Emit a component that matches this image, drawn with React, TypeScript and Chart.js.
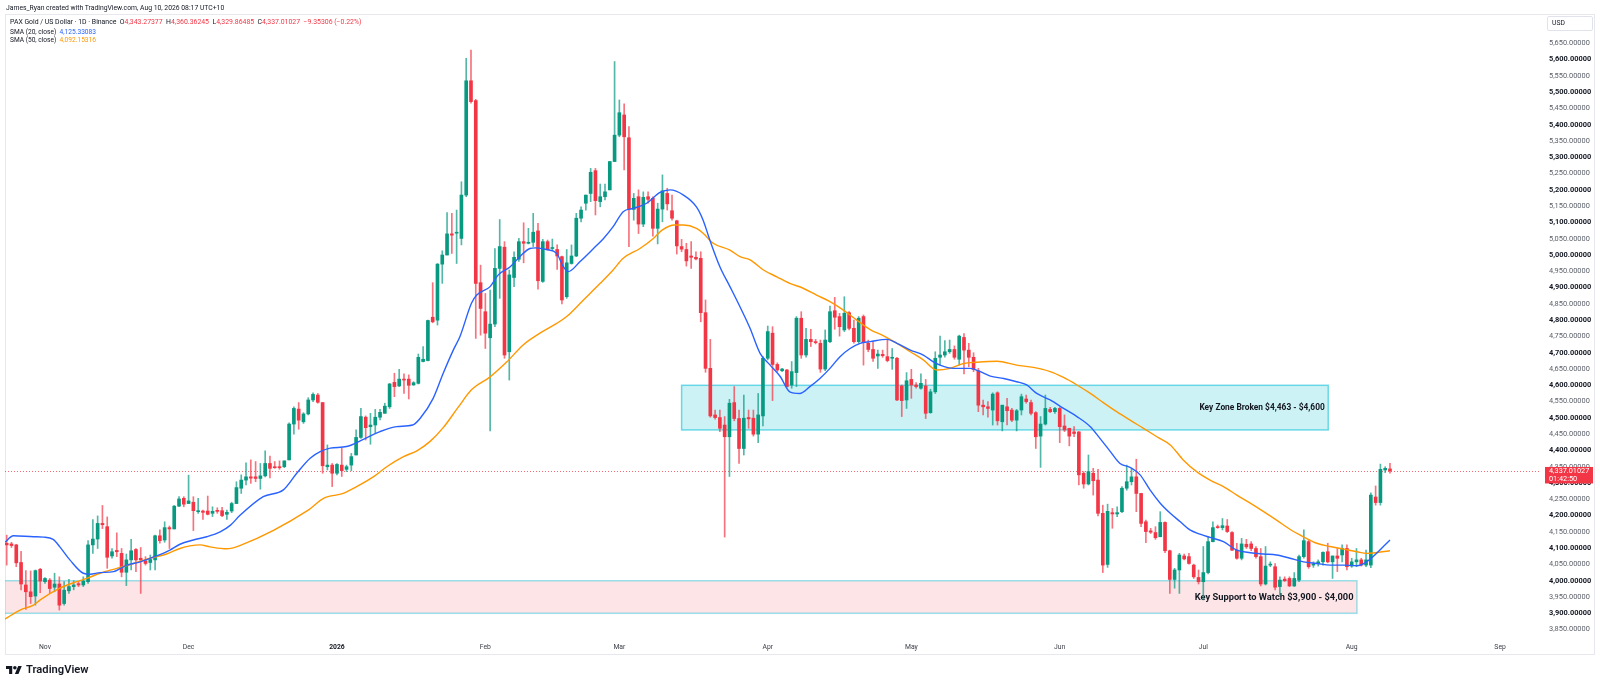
import React, { useEffect, useRef } from "react";
import { Chart, registerables } from "chart.js";

Chart.register(...registerables);

const FONT = "Roboto, 'Noto Sans', sans-serif";
const UP = "#089981";
const DOWN = "#f23645";
const UP_WICK = "rgba(8,153,129,0.7)";
const DOWN_WICK = "rgba(242,54,69,0.7)";

// Day index 0 = 24 Oct 2025, one candle per day, last candle = 9 Aug 2026 (UTC)
const opens = [
  4115, 4113, 4110, 4056, 3987, 3966, 3953, 4035, 3997, 4002,
  3980, 3990, 3930, 3969, 3982, 3991, 3987, 3997, 4110, 4128,
  4176, 4166, 4076, 4093, 4084, 4026, 4064, 4096, 4069, 4061,
  4056, 4064, 4138, 4125, 4163, 4159, 4229, 4253, 4237, 4241,
  4212, 4214, 4214, 4207, 4215, 4215, 4204, 4214, 4237, 4284,
  4309, 4319, 4319, 4314, 4322, 4360, 4350, 4350, 4350, 4371,
  4481, 4527, 4488, 4512, 4555, 4570, 4547, 4350, 4355, 4330,
  4355, 4342, 4355, 4386, 4440, 4502, 4473, 4478, 4502, 4514,
  4534, 4609, 4598, 4619, 4619, 4601, 4606, 4673, 4676, 4809,
  4800, 4972, 5000, 5065, 5067, 5051, 5184, 5535, 5474, 4915,
  4826, 4746, 4788, 4959, 5024, 4703, 4931, 4987, 5041, 5036,
  5039, 5074, 4919, 5041, 5020, 5017, 4995, 4872, 4974, 4997,
  5113, 5159, 5189, 5259, 5164, 5179, 5200, 5287, 5368, 5430,
  5360, 5140, 5179, 5095, 5179, 5174, 5082, 5141, 5189, 5136,
  5105, 5026, 5017, 4997, 4993, 4990, 4823, 4652, 4509, 4501,
  4478, 4442, 4547, 4498, 4406, 4501, 4499, 4450, 4506, 4683,
  4760, 4664, 4645, 4647, 4601, 4639, 4806, 4693, 4741, 4734,
  4729, 4650, 4734, 4829, 4811, 4770, 4823, 4775, 4734, 4811,
  4729, 4710, 4690, 4695, 4688, 4683, 4683, 4598, 4555, 4618,
  4601, 4591, 4598, 4516, 4580, 4686, 4693, 4703, 4710, 4680,
  4747, 4708, 4686, 4645, 4539, 4534, 4524, 4577, 4488, 4534,
  4524, 4493, 4524, 4558, 4547, 4516, 4444, 4481, 4526, 4519,
  4529, 4475, 4468, 4457, 4457, 4330, 4297, 4330, 4309, 4207,
  4050, 4209, 4205, 4212, 4284, 4304, 4319, 4268, 4181, 4153,
  4148, 4135, 4179, 4092, 4004, 4033, 4076, 4074, 4048, 4010,
  3997, 4025, 4120, 4166, 4163, 4168, 4148, 4094, 4069, 4112,
  4113, 4099, 4074, 3990, 4048, 4043, 3982, 4005, 4007, 3984,
  4002, 4074, 4120, 4048, 4053, 4058, 4089, 4058, 4076, 4079,
  4099, 4045, 4058, 4064, 4048, 4048, 4257, 4240, 4340, 4343.27377,
];
const highs = [
  4140, 4118, 4112, 4090, 4031, 4030, 4033, 4038, 4010, 4007,
  4023, 4012, 3997, 4004, 4000, 3997, 4012, 4123, 4188, 4199,
  4231, 4196, 4099, 4147, 4099, 4082, 4127, 4099, 4102, 4074,
  4079, 4140, 4156, 4181, 4168, 4231, 4258, 4258, 4324, 4258,
  4253, 4217, 4260, 4227, 4224, 4225, 4217, 4241, 4304, 4325,
  4362, 4371, 4366, 4360, 4399, 4383, 4366, 4368, 4368, 4485,
  4534, 4547, 4516, 4562, 4577, 4575, 4547, 4417, 4360, 4360,
  4407, 4355, 4391, 4463, 4529, 4506, 4514, 4526, 4526, 4545,
  4606, 4637, 4649, 4635, 4632, 4611, 4696, 4719, 4800, 4915,
  4974, 5013, 5130, 5128, 5138, 5225, 5604, 5629, 5478, 4969,
  4882, 4892, 5020, 5109, 5041, 4954, 5010, 5051, 5099, 5082,
  5128, 5097, 5048, 5046, 5049, 5031, 4997, 5017, 5031, 5128,
  5148, 5184, 5266, 5266, 5218, 5218, 5287, 5594, 5476, 5464,
  5394, 5189, 5200, 5194, 5194, 5179, 5159, 5246, 5205, 5184,
  5107, 5048, 5036, 5041, 5010, 5010, 4862, 4741, 4524, 4524,
  4504, 4557, 4596, 4524, 4570, 4524, 4524, 4575, 4688, 4782,
  4780, 4669, 4652, 4649, 4673, 4811, 4826, 4775, 4772, 4741,
  4739, 4770, 4843, 4870, 4821, 4872, 4826, 4800, 4811, 4816,
  4739, 4734, 4708, 4708, 4739, 4713, 4686, 4601, 4639, 4649,
  4608, 4635, 4618, 4588, 4703, 4751, 4737, 4739, 4721, 4754,
  4759, 4729, 4700, 4652, 4555, 4550, 4577, 4580, 4539, 4560,
  4529, 4526, 4573, 4570, 4555, 4519, 4504, 4570, 4532, 4532,
  4532, 4509, 4468, 4473, 4458, 4335, 4386, 4345, 4342, 4232,
  4235, 4222, 4227, 4289, 4355, 4345, 4373, 4268, 4186, 4161,
  4166, 4212, 4181, 4094, 4038, 4084, 4082, 4084, 4051, 4033,
  4105, 4135, 4181, 4171, 4191, 4188, 4151, 4115, 4130, 4127,
  4120, 4105, 4099, 4105, 4058, 4053, 4012, 4012, 4012, 4025,
  4079, 4156, 4127, 4058, 4064, 4089, 4115, 4076, 4099, 4110,
  4110, 4069, 4099, 4069, 4094, 4270, 4291, 4358, 4350, 4360.36245,
];
const lows = [
  4048, 4102, 4043, 3972, 3912, 3930, 3925, 3963, 3992, 3961,
  3966, 3910, 3925, 3961, 3972, 3982, 3982, 3992, 4084, 4099,
  4160, 4038, 4069, 4074, 4012, 3985, 4033, 4028, 3961, 4048,
  4033, 4033, 4115, 4118, 4099, 4159, 4227, 4227, 4237, 4154,
  4207, 4188, 4202, 4197, 4207, 4197, 4188, 4209, 4237, 4268,
  4294, 4299, 4304, 4281, 4319, 4316, 4345, 4342, 4347, 4371,
  4450, 4465, 4483, 4509, 4550, 4545, 4330, 4340, 4289, 4325,
  4320, 4335, 4338, 4386, 4437, 4432, 4419, 4453, 4494, 4514,
  4529, 4565, 4596, 4575, 4558, 4600, 4604, 4672, 4675, 4792,
  4785, 4913, 5000, 5005, 4974, 5031, 5179, 5466, 4744, 4754,
  4713, 4460, 4780, 4867, 4683, 4616, 4903, 4980, 4976, 5034,
  5026, 4895, 4916, 5015, 5013, 4956, 4850, 4867, 4972, 4995,
  5102, 5138, 5164, 5123, 5148, 5169, 5200, 5287, 5363, 5261,
  5026, 5107, 5066, 5087, 5159, 5058, 5034, 5102, 5138, 5107,
  5003, 5010, 4966, 4959, 4985, 4795, 4640, 4502, 4496, 4458,
  4134, 4320, 4491, 4360, 4386, 4468, 4444, 4424, 4475, 4678,
  4553, 4642, 4642, 4594, 4591, 4596, 4683, 4686, 4719, 4727,
  4640, 4645, 4731, 4772, 4751, 4765, 4770, 4729, 4729, 4662,
  4703, 4673, 4652, 4686, 4672, 4649, 4553, 4504, 4529, 4560,
  4591, 4588, 4498, 4514, 4575, 4662, 4686, 4698, 4680, 4662,
  4635, 4657, 4642, 4519, 4509, 4502, 4478, 4478, 4460, 4478,
  4488, 4460, 4509, 4545, 4509, 4406, 4348, 4478, 4516, 4514,
  4424, 4458, 4414, 4442, 4294, 4284, 4294, 4263, 4199, 4025,
  4041, 4161, 4197, 4209, 4278, 4294, 4212, 4166, 4117, 4145,
  4127, 4135, 4086, 3961, 3977, 3961, 4064, 4051, 4007, 3990,
  3941, 4021, 4119, 4161, 4156, 4148, 4092, 4066, 4064, 4099,
  4092, 4069, 3984, 3987, 4043, 3972, 3956, 3998, 3982, 3982,
  3997, 4069, 4038, 4041, 4045, 4048, 4055, 4007, 4028, 4058,
  4033, 4041, 4043, 4045, 4043, 4040, 4232, 4232, 4332, 4329.86485,
];
const closes = [
  4110, 4108, 4055, 3990, 3966, 3951, 4031, 3999, 4007, 3976,
  3990, 3925, 3971, 3982, 3987, 3987, 3999, 4110, 4128, 4176,
  4172, 4072, 4089, 4089, 4026, 4064, 4092, 4064, 4064, 4053,
  4065, 4138, 4123, 4163, 4159, 4229, 4251, 4235, 4245, 4215,
  4214, 4210, 4204, 4213, 4213, 4200, 4210, 4237, 4286, 4309,
  4319, 4315, 4314, 4322, 4360, 4345, 4347, 4347, 4368, 4481,
  4529, 4493, 4512, 4555, 4572, 4548, 4353, 4355, 4330, 4357,
  4338, 4350, 4381, 4440, 4504, 4470, 4478, 4502, 4517, 4536,
  4604, 4596, 4619, 4616, 4600, 4608, 4686, 4680, 4799, 4795,
  4972, 5000, 5065, 5061, 5070, 5184, 5535, 5471, 4913, 4836,
  4760, 4788, 4959, 5026, 4693, 4939, 4993, 5041, 5036, 5039,
  5070, 4921, 5041, 5017, 5023, 4997, 4862, 4976, 4997, 5113,
  5138, 5184, 5254, 5167, 5179, 5194, 5287, 5368, 5437, 5363,
  5140, 5174, 5095, 5177, 5171, 5082, 5141, 5197, 5157, 5113,
  5028, 5018, 4982, 4993, 4988, 4823, 4652, 4506, 4501, 4468,
  4442, 4545, 4498, 4406, 4499, 4497, 4450, 4509, 4683, 4765,
  4664, 4647, 4650, 4596, 4642, 4806, 4693, 4741, 4734, 4731,
  4650, 4739, 4826, 4809, 4780, 4821, 4775, 4734, 4806, 4731,
  4710, 4683, 4696, 4691, 4676, 4686, 4555, 4553, 4614, 4601,
  4596, 4606, 4514, 4580, 4683, 4693, 4703, 4710, 4686, 4751,
  4708, 4686, 4649, 4539, 4534, 4529, 4573, 4491, 4539, 4522,
  4493, 4522, 4565, 4550, 4514, 4442, 4481, 4529, 4519, 4529,
  4473, 4463, 4444, 4452, 4325, 4297, 4335, 4307, 4207, 4048,
  4213, 4205, 4209, 4284, 4304, 4319, 4268, 4176, 4151, 4149,
  4132, 4179, 4092, 4004, 4033, 4079, 4067, 4053, 4012, 3997,
  4025, 4120, 4163, 4163, 4169, 4151, 4094, 4069, 4113, 4104,
  4099, 4074, 3990, 4045, 4051, 3980, 4002, 4000, 3984, 4007,
  4074, 4123, 4043, 4051, 4058, 4087, 4058, 4076, 4069, 4099,
  4043, 4058, 4064, 4048, 4064, 4263, 4240, 4342, 4345, 4337.01027,
];

// SMA lines, values at these day positions
const sma20Days = [
  -0.4, 1.4, 5.6, 7.7, 9.7, 11.1, 13.2, 16, 17.4, 19.5, 22.3, 25.1, 27.9, 31.3, 34.1, 36.2,
  39, 41.8, 44.6, 46.7, 48.7, 53.6, 57.8, 60.6, 63.4, 65.5, 67.6, 71, 74.5, 78, 81.5, 84.8,
  86.4, 89.1, 91.2, 93.3, 94.7, 97.1, 98.2, 101, 102.7, 105.2, 107.2, 109.3, 110.5, 112.8,
  114.9, 116.3, 117.3, 119.8, 122.6, 124.7, 126.7, 128.8, 130.9, 133.7, 136.5, 138.6, 141.4,
  144.1, 145.5, 146.9, 149, 151.1, 153.2, 155.3, 157.4, 159.5, 161.6, 163.6, 165.7, 167.8,
  169.9, 172, 174.1, 176.2, 178.3, 180.4, 183.9, 186, 188.8, 191.5, 193.6, 195, 197.8, 201.3,
  203.4, 205.5, 208.3, 211, 213.1, 215.2, 218, 220.8, 223.6, 226.4, 228.4, 230.5, 232.6,
  234.7, 236.8, 238.9, 241, 243.1, 245.2, 247.2, 249.3, 251.4, 254.2, 257, 259.8, 262.6,
  265.3, 268.1, 270.9, 273.7, 276.5, 279.3, 282.1, 284.1, 289,
];
const sma20Vals = [
  4118, 4138, 4135, 4134, 4127, 4104, 4064, 4023, 4020, 4025, 4028, 4048, 4058, 4076, 4094, 4112,
  4125, 4135, 4150, 4170, 4200, 4258, 4279, 4330, 4376, 4396, 4407, 4412, 4434, 4458, 4473, 4478,
  4499, 4560, 4637, 4708, 4750, 4852, 4877, 4903, 4939, 4964, 4995, 5020, 5022, 5017,
  5005, 4964, 4949, 4980, 5020, 5051, 5087, 5133, 5143, 5159, 5192, 5200, 5184,
  5148, 5107, 5046, 4964, 4903, 4841, 4775, 4698, 4662, 4627, 4580, 4575, 4596,
  4621, 4652, 4688, 4713, 4729, 4734, 4741, 4729, 4708, 4693, 4672, 4662, 4652, 4652,
  4642, 4628, 4621, 4611, 4601, 4575, 4555, 4529, 4504, 4473, 4437, 4398, 4360,
  4348, 4325, 4278, 4238, 4207, 4181, 4156, 4143, 4133, 4120, 4094, 4086, 4082,
  4079, 4069, 4058, 4053, 4048, 4048, 4046, 4058, 4125.33083,
];
const sma50Days = [
  -0.4, 2.8, 5.6, 7, 11.1, 14.6, 16.7, 19.5, 23, 26.5, 29.9, 33.4, 36.2, 38.3, 40.4, 42.5,
  45.9, 48.7, 63, 66.2, 70.3, 73.1, 76.6, 79.4, 82.9, 85.7, 88.4, 91.2, 94.3, 97.1, 101,
  104.5, 107.9, 111.4, 114.9, 117, 120.5, 124, 126.7, 128.8, 132.3, 135.1, 137, 139.5, 141.4,
  144.1, 145.5, 147.6, 151.1, 153.2, 155.3, 158.1, 160.9, 163.6, 166.4, 169.2, 172, 174.8,
  177.6, 180.4, 183.2, 186, 188.8, 191.5, 194.3, 197.1, 199.9, 202.7, 206.9, 211, 214.5,
  218, 220.8, 223.6, 226.4, 229.1, 231.9, 234.7, 237.5, 240.3, 243.1, 245.8, 248.6, 251.4,
  254.2, 257, 259.8, 262.6, 265.3, 268.1, 270.9, 273.7, 276.5, 279.3, 282.1, 284.1, 289,
];
const sma50Vals = [
  3882, 3910, 3925, 3941, 3977, 3997, 4007, 4023, 4038, 4053, 4069, 4082, 4099, 4107, 4110, 4104,
  4098, 4108, 4217, 4253, 4268, 4289, 4319, 4350, 4381, 4399, 4427, 4470, 4532, 4586, 4626,
  4672, 4724, 4760, 4790, 4811, 4862, 4913, 4954, 4990, 5020, 5051, 5077, 5092, 5092,
  5082, 5067, 5036, 5015, 4995, 4985, 4954, 4933, 4913, 4898, 4877, 4857, 4831,
  4800, 4771, 4752, 4729, 4703, 4678, 4647, 4652, 4667, 4671, 4674, 4662, 4655,
  4642, 4624, 4601, 4575, 4547, 4519, 4493, 4468, 4442, 4417, 4371, 4335, 4309,
  4289, 4263, 4238, 4212, 4186, 4158, 4135, 4115, 4105, 4097, 4089, 4084, 4092.15316,
];

const monthTickDays = [8, 38, 69, 100, 128, 159, 189, 220, 250, 281, 312];
const monthTickLabels = ["Nov", "Dec", "2026", "Feb", "Mar", "Apr", "May", "Jun", "Jul", "Aug", "Sep"];

const priceTicks = [
  3850, 3900, 3950, 4000, 4050, 4100, 4150, 4200, 4250, 4300, 4350, 4400, 4450,
  4500, 4550, 4600, 4650, 4700, 4750, 4800, 4850, 4900, 4950, 5000, 5050, 5100,
  5150, 5200, 5250, 5300, 5350, 5400, 5450, 5500, 5550, 5600, 5650,
];

const zoneDays = [141, 276.1];
const zonePrices = [4463, 4600];
const zoneLabel = "Key Zone Broken $4,463 - $4,600";
const supportDays = [-5, 282.1];
const supportPrices = [3900, 4000];
const supportLabel = "Key Support to Watch $3,900 - $4,000";

const lastPrice = 4337.01027;
const countdown = "01:42:50";

const fmtPrice = (v: number) =>
  v.toLocaleString("en-US", { minimumFractionDigits: 5, maximumFractionDigits: 5 });

const overlayPlugin = {
  id: "overlay",
  beforeDatasetsDraw(chart: any) {
    const { ctx, chartArea, scales } = chart;
    const x = scales.x;
    const y = scales.y;
    ctx.save();
    ctx.beginPath();
    ctx.rect(chartArea.left, chartArea.top, chartArea.right - chartArea.left, chartArea.bottom - chartArea.top);
    ctx.clip();

    const drawBox = (days: number[], prices: number[], fill: string, stroke: string, label: string, font: string) => {
      const x0 = x.getPixelForValue(days[0]);
      const x1 = x.getPixelForValue(days[1]);
      const y0 = y.getPixelForValue(prices[1]);
      const y1 = y.getPixelForValue(prices[0]);
      ctx.fillStyle = fill;
      ctx.fillRect(x0, y0, x1 - x0, y1 - y0);
      ctx.strokeStyle = stroke;
      ctx.lineWidth = 1.5;
      ctx.strokeRect(x0, y0, x1 - x0, y1 - y0);
      ctx.fillStyle = "#131722";
      ctx.font = font;
      ctx.textAlign = "right";
      ctx.textBaseline = "middle";
      ctx.fillText(label, x1 - 3.5, (y0 + y1) / 2 + 0.5);
    };
    drawBox(zoneDays, zonePrices, "rgba(0,188,212,0.2)", "rgba(0,188,212,0.55)", zoneLabel, `bold 8.4px ${FONT}`);
    drawBox(supportDays, supportPrices, "rgba(242,54,69,0.13)", "rgba(0,188,212,0.4)", supportLabel, `bold 9.3px ${FONT}`);

    const py = Math.round(y.getPixelForValue(lastPrice)) + 0.5;
    ctx.strokeStyle = "rgba(242,54,69,0.75)";
    ctx.lineWidth = 1;
    ctx.setLineDash([1, 2]);
    ctx.beginPath();
    ctx.moveTo(chartArea.left, py);
    ctx.lineTo(chartArea.right, py);
    ctx.stroke();
    ctx.restore();
  },
  afterDraw(chart: any) {
    const { ctx, chartArea, scales } = chart;
    const py = scales.y.getPixelForValue(lastPrice);
    ctx.save();
    ctx.fillStyle = DOWN;
    ctx.fillRect(chartArea.right + 4, py - 4, 48, 16.5);
    ctx.fillStyle = "#ffffff";
    ctx.font = `7.3px ${FONT}`;
    ctx.textAlign = "left";
    ctx.textBaseline = "middle";
    ctx.fillText(fmtPrice(lastPrice), chartArea.right + 8, py + 0.3);
    ctx.fillText(countdown, chartArea.right + 8, py + 8);
    ctx.restore();
  },
};

export default function App() {
  const ref = useRef<HTMLCanvasElement | null>(null);

  useEffect(() => {
    const canvas = ref.current;
    if (!canvas) return;
    const wickData: any[] = [];
    const bodyData: any[] = [];
    const bodyColors: string[] = [];
    const wickColors: string[] = [];
    for (let i = 0; i < closes.length; i++) {
      const up = closes[i] >= opens[i];
      wickData.push({ x: i, y: [lows[i], highs[i]] });
      bodyData.push({ x: i, y: [Math.min(opens[i], closes[i]), Math.max(opens[i], closes[i])] });
      bodyColors.push(up ? UP : DOWN);
      wickColors.push(up ? UP_WICK : DOWN_WICK);
    }

    const chart = new Chart(canvas, {
      type: "bar",
      data: {
        datasets: [
          {
            type: "line",
            label: "SMA (20, close)",
            data: sma20Days.map((d, i) => ({ x: d, y: sma20Vals[i] })),
            borderColor: "#2962ff",
            borderWidth: 1.4,
            pointRadius: 0,
            cubicInterpolationMode: "monotone",
            order: 1,
          } as any,
          {
            type: "line",
            label: "SMA (50, close)",
            data: sma50Days.map((d, i) => ({ x: d, y: sma50Vals[i] })),
            borderColor: "#ff9800",
            borderWidth: 1.4,
            pointRadius: 0,
            cubicInterpolationMode: "monotone",
            order: 2,
          } as any,
          {
            type: "bar",
            label: "body",
            data: bodyData,
            backgroundColor: bodyColors,
            barThickness: 3,
            minBarLength: 1,
            grouped: false,
            order: 3,
          } as any,
          {
            type: "bar",
            label: "wick",
            data: wickData,
            backgroundColor: wickColors,
            barThickness: 1,
            grouped: false,
            order: 4,
          } as any,
        ],
      },
      options: {
        animation: false,
        responsive: false,
        maintainAspectRatio: false,
        events: [],
        layout: { padding: { left: 5, right: 6, top: 14, bottom: 32 } },
        plugins: { legend: { display: false }, tooltip: { enabled: false }, title: { display: false } },
        scales: {
          x: {
            type: "linear",
            min: -0.355,
            max: 320.55,
            offset: false,
            grid: { display: false, drawTicks: false, offset: false },
            border: { display: false },
            afterBuildTicks: (s: any) => {
              s.ticks = monthTickDays.map((v) => ({ value: v }));
            },
            afterFit: (s: any) => {
              s.height = 18;
            },
            ticks: {
              autoSkip: false,
              maxRotation: 0,
              padding: 7,
              color: (c: any) => (c.tick && c.tick.value === 69 ? "#131722" : "#3d404a"),
              font: (c: any) => ({
                family: FONT,
                size: 6.8,
                weight: c.tick && c.tick.value === 69 ? "bold" : "normal",
              }),
              callback: (v: any) => {
                const k = monthTickDays.indexOf(Number(v));
                return k >= 0 ? monthTickLabels[k] : "";
              },
            },
          } as any,
          y: {
            type: "linear",
            position: "right",
            min: 3830.3,
            max: 5740,
            grid: { display: false, drawTicks: false },
            border: { display: false },
            afterBuildTicks: (s: any) => {
              s.ticks = priceTicks.map((v) => ({ value: v }));
            },
            afterFit: (s: any) => {
              s.width = 53;
            },
            ticks: {
              autoSkip: false,
              padding: 8,
              color: (c: any) => (c.tick && c.tick.value % 100 === 0 ? "#131722" : "#5d606b"),
              font: (c: any) => ({
                family: FONT,
                size: 7.4,
                weight: c.tick && c.tick.value % 100 === 0 ? "bold" : "normal",
              }),
              callback: (v: any) => fmtPrice(Number(v)),
            },
          } as any,
        },
      },
      plugins: [overlayPlugin as any],
    });
    return () => chart.destroy();
  }, []);

  const legendRow: React.CSSProperties = {
    position: "absolute",
    left: 10,
    height: 9,
    lineHeight: "9px",
    fontSize: 6.6,
    whiteSpace: "nowrap",
    color: "#131722",
  };
  const red = { color: DOWN };

  return (
    <div
      style={{
        position: "absolute",
        left: 0,
        top: 0,
        width: 1600,
        height: 686,
        background: "#ffffff",
        fontFamily: FONT,
        overflow: "hidden",
      }}
    >
      <div
        style={{
          position: "absolute",
          left: 5,
          top: 14,
          width: 1590,
          height: 641,
          border: "1px solid #e6e8ee",
          boxSizing: "border-box",
        }}
      />
      <canvas ref={ref} width={1600} height={686} style={{ position: "absolute", left: 0, top: 0, width: 1600, height: 686 }} />
      <div style={{ position: "absolute", left: 6, top: 2.5, fontSize: 6.8, lineHeight: "10px", color: "#131722", whiteSpace: "nowrap" }}>
        James_Ryan created with TradingView.com, Aug 10, 2026 08:17 UTC+10
      </div>
      <div style={{ ...legendRow, top: 17.8, fontSize: 6.9 }}>
        PAX Gold / US Dollar · 1D · Binance&nbsp;&nbsp;O<span style={red}>4,343.27377</span>&nbsp;&nbsp;H
        <span style={red}>4,360.36245</span>&nbsp;&nbsp;L<span style={red}>4,329.86485</span>&nbsp;&nbsp;C
        <span style={red}>4,337.01027</span>&nbsp;&nbsp;<span style={red}>−9.35306 (−0.22%)</span>
      </div>
      <div style={{ ...legendRow, top: 27.8 }}>
        SMA (20, close)&nbsp;&nbsp;<span style={{ color: "#2962ff" }}>4,125.33083</span>
      </div>
      <div style={{ ...legendRow, top: 36.2 }}>
        SMA (50, close)&nbsp;&nbsp;<span style={{ color: "#ff9800" }}>4,092.15316</span>
      </div>
      <div
        style={{
          position: "absolute",
          left: 1547,
          top: 16,
          width: 46,
          height: 15,
          border: "1px solid #e0e3eb",
          borderRadius: 2,
          boxSizing: "border-box",
          fontSize: 6.8,
          lineHeight: "13px",
          paddingLeft: 4,
          color: "#131722",
        }}
      >
        USD
      </div>
      <div style={{ position: "absolute", left: 6, top: 664, height: 12, display: "flex", alignItems: "center" }}>
        <svg width="16" height="8" viewBox="0 4 36 18" style={{ display: "block" }}>
          <path d="M14 22H7V11H0V4h14v18zM28 22h-8l7.5-18h8L28 22z" fill="#131722" />
          <circle cx="20" cy="8" r="4" fill="#131722" />
        </svg>
        <span style={{ marginLeft: 4, fontSize: 11.2, fontWeight: 600, color: "#131722", lineHeight: "12px" }}>
          TradingView
        </span>
      </div>
    </div>
  );
}
